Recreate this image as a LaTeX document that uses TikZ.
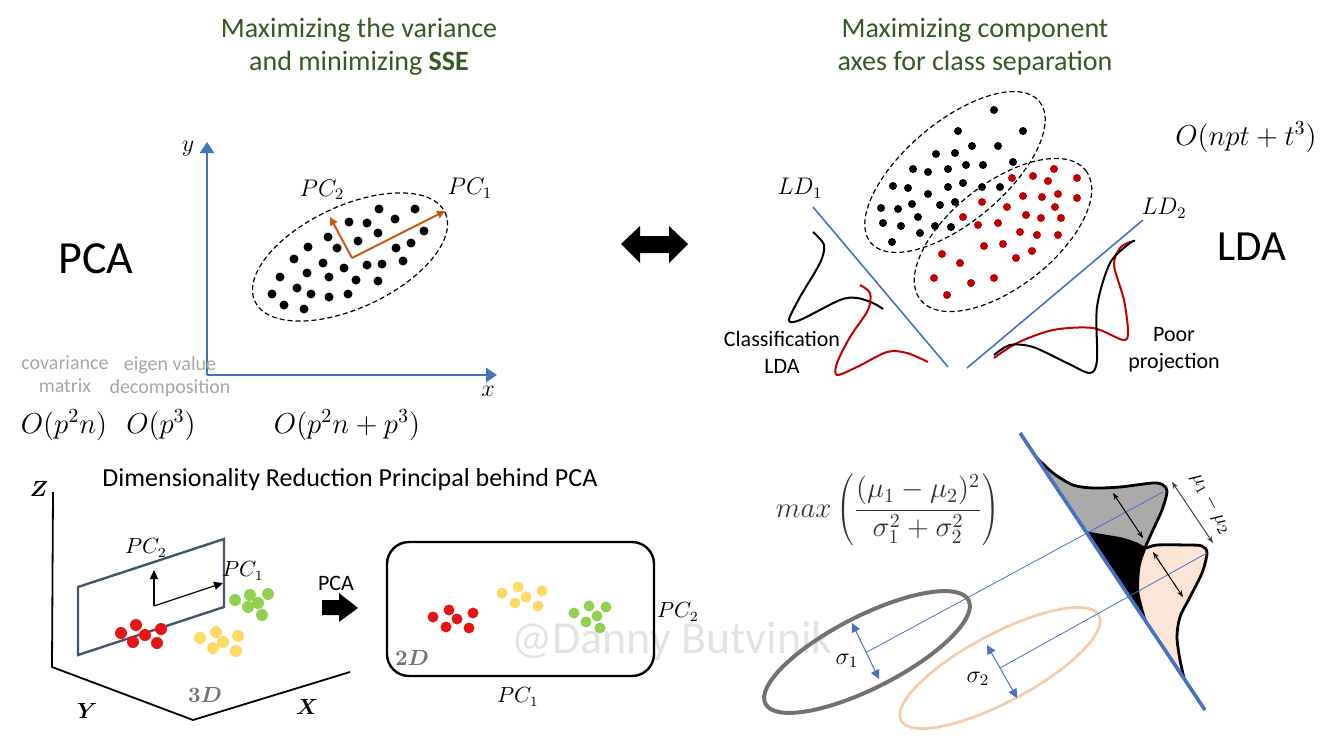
\documentclass[tikz,border=0pt]{standalone}
\usepackage[no-math]{fontspec}
\setmainfont{Carlito}
\usepackage{bm}
\usetikzlibrary{arrows.meta,positioning}

\definecolor{axisblue}{RGB}{68,114,196}
\definecolor{titlegreen}{RGB}{56,87,35}
\definecolor{pcorange}{RGB}{197,90,17}
\definecolor{ldred}{RGB}{192,0,0}
\definecolor{planeblue}{RGB}{68,84,106}
\definecolor{dotred}{RGB}{232,20,20}
\definecolor{dotyellow}{RGB}{255,217,102}
\definecolor{dotgreen}{RGB}{146,208,80}
\definecolor{notegray}{RGB}{166,166,166}
\definecolor{dimgray}{RGB}{118,113,113}
\definecolor{peachline}{RGB}{244,204,176}
\definecolor{peachfill}{RGB}{251,229,214}
\definecolor{distgray}{RGB}{170,170,170}
\definecolor{markgray}{RGB}{226,226,226}

\begin{document}
\begin{tikzpicture}[x=0.5pt, y=-0.5pt,
    headline/.style={text=titlegreen, align=center, font=\fontsize{14}{16.5}\selectfont},
    bigname/.style={font=\fontsize{23}{27}\selectfont},
    graynote/.style={text=notegray, align=center, font=\fontsize{10}{11.5}\selectfont},
    bigo/.style={font=\fontsize{14.5}{17}\selectfont},
    mathtext/.style={font=\fontsize{12}{14}\selectfont},
    smallmath/.style={font=\fontsize{10.5}{12}\selectfont},
    bodytext/.style={align=center, font=\fontsize{11}{13.5}\selectfont},
    axisline/.style={axisblue, line width=1.3pt, -{Triangle[width=7pt,length=5.5pt]}},
    cloud/.style={black, line width=0.6pt, dash pattern=on 2.5pt off 1.5pt},
    pcarrow/.style={pcorange, line width=1pt, -{Triangle[width=4pt,length=4pt]}},
    ldaxis/.style={axisblue, line width=0.8pt},
    plane/.style={planeblue, line width=1.2pt},
    thinarrow/.style={line width=0.5pt, {Stealth[length=3.5pt]}-{Stealth[length=3.5pt]}},
    sigmaarrow/.style={axisblue, line width=0.5pt, {Triangle[width=4.5pt,length=4.5pt]}-{Triangle[width=4.5pt,length=4.5pt]}},
    distline/.style={black, line width=1.4pt}]

\useasboundingbox (0,0) rectangle (1341,744);

% titles
\node[headline] (pcatitle) at (359,47) {Maximizing the variance\\and minimizing \textbf{SSE}};
\node[headline] (ldatitle) at (975,47) {Maximizing component\\axes for class separation};
\node[bigname] (pcaname) at (96,259) {PCA};
\node[bigname, font=\fontsize{21.5}{26}\selectfont] (ldaname) at (1252,247) {LDA};

% PCA axes
\coordinate (origin) at (207,375);
\coordinate (ytip) at (207,142);
\coordinate (xtip) at (497,375);
\draw[axisline] (origin) -- (ytip);
\draw[axisline] (origin) -- (xtip);
\node[mathtext] (ylab) at (188,149) {$y$};
\node[mathtext] (xlab) at (488,391) {$x$};

% PCA data cloud
\draw[cloud, rotate around={25:(350,257)}] (350,257) ellipse [x radius=105, y radius=51];
\foreach \px/\py in {379/209, 415/209, 349/222, 367/223, 395/219, 378/233, 358/241, 424/231,
    328/237, 308/247, 337/248, 396/248, 411/243, 294/259, 323/263, 344/268, 367/265, 382/264,
    403/261, 280/277, 307/273, 329/277, 356/280, 378/281, 297/288, 272/294, 311/294, 329/297,
    348/294, 284/305, 304/309}
    \fill (\px,\py) circle[radius=4.5];
\coordinate (pco) at (352,258);
\coordinate (pcone) at (445,211);
\coordinate (pctwo) at (330,217);
\draw[pcarrow] (pco) -- (pcone);
\draw[pcarrow] (pco) -- (pctwo);
\node[mathtext] (pconelab) at (470,188) {$PC_1$};
\node[mathtext] (pctwolab) at (322,190) {$PC_2$};

% double arrow
\fill (621,244) -- (640,226) -- (640,236) -- (669,236) -- (669,226) -- (688,244)
    -- (669,263) -- (669,253) -- (640,253) -- (640,263) -- cycle;

% complexity
\node[graynote] (covnote) at (65,374) {covariance\\matrix};
\node[graynote] (eignote) at (170,377) {eigen value\\decomposition};
\node[bigo] (ocov) at (64,425) {$O(p^2n)$};
\node[bigo] (oeig) at (161,425) {$O(p^3)$};
\node[bigo] (opca) at (347,425) {$O(p^2n+p^3)$};
\node[bigo] (olda) at (1246,137) {$O(npt+t^3)$};

% LDA classes
\draw[cloud, rotate around={40:(955,172)}] (955,172) ellipse [x radius=110, y radius=50];
\draw[cloud, rotate around={38:(1003,235)}] (1003,235) ellipse [x radius=105, y radius=52];
\foreach \px/\py in {994/110, 958/131, 1023/131, 972/146, 998/146, 936/154, 955/153, 1013/162,
    913/169, 928/172, 948/169, 966/165, 983/165, 893/186, 908/188, 948/187, 963/183, 982/187,
    1000/187, 928/194, 912/204, 940/205, 955/202, 881/208, 898/209, 918/217, 883/223, 901/226,
    935/226, 951/227, 920/233, 892/242}
    \fill (\px,\py) circle[radius=4];
\foreach \px/\py in {1012/178, 1033/176, 1054/169, 1048/181, 1077/178, 982/202, 1007/207,
    1023/196, 1042/197, 1058/194, 1077/198, 1026/215, 1041/218, 1055/207, 1061/218, 963/217,
    978/225, 998/223, 1020/232, 1037/235, 1058/235, 984/246, 1003/244, 1016/258, 1032/251,
    942/254, 960/263, 934/278, 971/283, 994/278, 947/295}
    \fill[ldred] (\px,\py) circle[radius=4];

% LD axes
\coordinate (ldonetop) at (813,207);
\coordinate (ldonebot) at (948,367);
\coordinate (ldtwobot) at (967,368);
\coordinate (ldtwotop) at (1143,220);
\draw[ldaxis] (ldonetop) -- (ldonebot);
\draw[ldaxis] (ldtwobot) -- (ldtwotop);
\node[mathtext, font=\fontsize{11.5}{14}\selectfont] (ldonelab) at (800,188) {$LD_1$};
\node[mathtext, font=\fontsize{11.5}{14}\selectfont] (ldtwolab) at (1164,208) {$LD_2$};

% projected densities
\draw[line width=1pt] plot[smooth] coordinates {(813,232) (824,245) (820,263) (800,297)
    (789,320) (800,320) (840,300) (857,298) (873,303) (883,309)};
\draw[ldred, line width=1pt] plot[smooth] coordinates {(860,285) (870,293) (868,310) (850,337)
    (837,363) (837,375) (857,367) (887,352) (907,353) (928,362)};
\draw[ldred, line width=1pt] plot[smooth] coordinates {(994,358) (1017,343) (1053,330)
    (1093,328) (1123,340) (1128,332) (1124,300) (1114,265) (1120,248) (1130,242)};
\draw[line width=1pt] plot[smooth] coordinates {(994,355) (1010,345) (1033,347) (1067,363)
    (1090,373) (1097,360) (1097,307) (1110,263) (1130,243) (1135,241)};
\node[bodytext] (classnote) at (782,352) {Classification\\LDA};
\node[bodytext] (poornote) at (1174,350) {Poor\\projection};

% bottom-left: 3D to 2D
\node[font=\fontsize{13}{16}\selectfont] (dimtitle) at (350,480) {Dimensionality Reduction Principal behind PCA};
\coordinate (ztop) at (53,492);
\coordinate (corner) at (52,667);
\coordinate (ybot) at (193,720);
\coordinate (xend) at (350,672);
\draw[line width=0.9pt] (ztop) -- (corner) -- (ybot) -- (xend);
\node[font=\fontsize{11}{13}\selectfont] (zlab) at (39,489) {$\bm{Z}$};
\node[font=\fontsize{11}{13}\selectfont] (ylab3d) at (87,711) {$\bm{Y}$};
\node[font=\fontsize{11}{13}\selectfont] (xlab3d) at (307,707) {$\bm{X}$};
\node[font=\fontsize{11}{13}\selectfont, text=dimgray] (threed) at (205,695) {$\bm{3D}$};

\draw[plane] (78,587) -- (224,539) -- (224,607) -- (78,655) -- cycle;
\coordinate (po) at (154,606);
\coordinate (pup) at (154,570);
\coordinate (pright) at (223,583);
\draw[line width=0.6pt, -{Triangle[width=4pt,length=4.5pt]}] (po) -- (pup);
\draw[line width=0.6pt, -{Triangle[width=4pt,length=4.5pt]}] (po) -- (pright);
\node[smallmath] (pctwo3d) at (146,548) {$PC_2$};
\node[smallmath] (pcone3d) at (243,571) {$PC_1$};
\foreach \px/\py in {121/633, 136/625, 145/635, 161/629, 133/642, 157/643}
    \fill[dotred] (\px,\py) circle[radius=6];
\foreach \px/\py in {200/638, 216/632, 223/642, 238/636, 213/648, 236/651}
    \fill[dotyellow] (\px,\py) circle[radius=6];
\foreach \px/\py in {235/600, 250/595, 268/594, 258/603, 248/607, 262/615}
    \fill[dotgreen] (\px,\py) circle[radius=6];

% PCA step arrow
\node[font=\fontsize{11}{13}\selectfont] (pcastep) at (336,583) {PCA};
\fill (322,600) -- (339,600) -- (339,593) -- (358,608) -- (339,622) -- (339,615) -- (322,615) -- cycle;

% watermark
\node[text=markgray, font=\fontsize{23}{28}\selectfont] (mark) at (672,641) {@Danny Butvinik};

% 2D plane
\node[draw, line width=1.2pt, rounded corners=11pt, minimum width=133.5pt, minimum height=67pt] (flat) at (520.5,609) {};
\node[smallmath] (pconeflat) at (518,697) {$PC_1$};
\node[smallmath] (pctwoflat) at (678,612) {$PC_2$};
\node[font=\fontsize{11}{13}\selectfont, text=dimgray] (twod) at (412,658) {$\bm{2D}$};
\foreach \px/\py in {433/617, 449/610, 457/619, 473/613, 446/627, 469/628}
    \fill[dotred] (\px,\py) circle[radius=5.5];
\foreach \px/\py in {502/593, 518/587, 526/597, 542/591, 515/603, 538/606}
    \fill[dotyellow] (\px,\py) circle[radius=5.5];
\foreach \px/\py in {574/613, 589/606, 606/607, 597/616, 586/622, 600/628}
    \fill[dotgreen] (\px,\py) circle[radius=5.5];

% bottom-right: Fisher criterion
\node[text=black!80, font=\fontsize{14}{17}\selectfont] (fisher) at (888,510)
    {$\displaystyle max\left(\frac{(\mu_1-\mu_2)^2}{\sigma_1^2+\sigma_2^2}\right)$};

\fill[distgray] plot[smooth] coordinates {(1037,458) (1053,473) (1073,485) (1093,488) (1120,487)
    (1153,483) (1163,485) (1167,492) (1162,510) (1153,530) (1145,548) (1139,567) (1138,593) (1145,620)} -- cycle;
\fill[peachfill] plot[smooth] coordinates {(1087,533) (1105,536) (1122,539) (1137,544) (1145,548)
    (1157,545) (1187,545) (1202,546) (1207,553) (1202,573) (1190,597) (1180,617) (1177,637)
    (1180,660) (1184,678)} -- cycle;
\begin{scope}
    \clip plot[smooth] coordinates {(1037,458) (1053,473) (1073,485) (1093,488) (1120,487)
        (1153,483) (1163,485) (1167,492) (1162,510) (1153,530) (1145,548) (1139,567) (1138,593) (1145,620)} -- cycle;
    \fill plot[smooth] coordinates {(1087,533) (1105,536) (1122,539) (1137,544) (1145,548)
        (1157,545) (1187,545) (1202,546) (1207,553) (1202,573) (1190,597) (1180,617) (1177,637)
        (1180,660) (1184,678)} -- cycle;
\end{scope}
\draw[distline] plot[smooth] coordinates {(1037,458) (1053,473) (1073,485) (1093,488) (1120,487)
    (1153,483) (1163,485) (1167,492) (1162,510) (1153,530) (1145,548) (1139,567) (1138,593) (1145,620)};
\draw[distline] plot[smooth] coordinates {(1087,533) (1105,536) (1122,539) (1137,544) (1145,548)
    (1157,545) (1187,545) (1202,546) (1207,553) (1202,573) (1190,597) (1180,617) (1177,637)
    (1180,660) (1184,678)};

% class ellipses and projections
\coordinate (grayc) at (867,652);
\coordinate (peachc) at (1000,668);
\coordinate (graypeak) at (1163,492);
\coordinate (peachpeak) at (1207,553);
\draw[dimgray, line width=2pt, rotate around={27:(grayc)}] (grayc) ellipse [x radius=114, y radius=36];
\draw[peachline, line width=1.4pt, rotate around={28:(peachc)}] (peachc) ellipse [x radius=112, y radius=34];
\draw[axisblue, line width=0.4pt] (grayc) -- (graypeak);
\draw[axisblue, line width=0.4pt] (peachc) -- (peachpeak);
\coordinate (sonea) at (852,623);
\coordinate (soneb) at (879,679);
\coordinate (stwoa) at (987,645);
\coordinate (stwob) at (1017,698);
\draw[sigmaarrow] (sonea) -- (soneb);
\draw[sigmaarrow] (stwoa) -- (stwob);
\node[mathtext] (sonelab) at (847,661) {$\sigma_1$};
\node[mathtext] (stwolab) at (978,679) {$\sigma_2$};

\coordinate (gspa) at (1113,493);
\coordinate (gspb) at (1143,538);
\coordinate (pspa) at (1153,552);
\coordinate (pspb) at (1183,597);
\coordinate (mua) at (1172,482);
\coordinate (mub) at (1213,543);
\draw[thinarrow] (gspa) -- (gspb);
\draw[thinarrow] (pspa) -- (pspb);
\draw[thinarrow, black!75] (mua) -- (mub);
\node[font=\fontsize{10}{12}\selectfont, rotate=-62] (mulab) at (1211,504) {$\mu_1-\mu_2$};

% projection axis
\coordinate (projtop) at (1020,433);
\coordinate (projbot) at (1205,710);
\draw[axisblue, line width=1.8pt] (projtop) -- (projbot);

\end{tikzpicture}
\end{document}
